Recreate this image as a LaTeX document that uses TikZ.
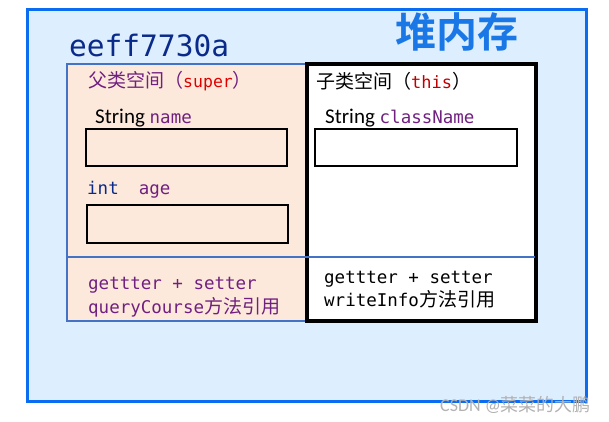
\documentclass[tikz,border=0pt]{standalone}
\usepackage{fontspec}
\setmainfont{Carlito}
\setmonofont{DejaVu Sans Mono}
\newfontfamily\cjk{Noto Sans CJK SC}
\newfontfamily\cjkbold{Noto Sans CJK SC Bold}
\definecolor{heapblue}{HTML}{0A6CF0}
\definecolor{heapfill}{HTML}{DDEEFF}
\definecolor{peach}{HTML}{FDE9DB}
\definecolor{parentblue}{HTML}{4472C4}
\definecolor{varpurple}{HTML}{702080}
\definecolor{navy}{HTML}{0A2A8A}
\definecolor{titleblue}{HTML}{1A78E6}
\definecolor{kwred}{HTML}{E00000}
\definecolor{kwdark}{HTML}{C00000}
\tikzset{
  txt/.style={anchor=base west, inner sep=0pt},
  slot/.style={draw=black, line width=2.5pt}
}
\newcommand{\zh}[1]{{\cjk\fontsize{19}{22}\selectfont #1}}
\newcommand{\code}[1]{{\ttfamily\fontsize{17.5}{20}\selectfont #1}}
\begin{document}
\begin{tikzpicture}[x=1pt, y=-1pt]
\useasboundingbox (0,0) rectangle (609,422);
% heap
\draw[color=heapblue, fill=heapfill, line width=3pt] (27,10) rectangle (586,401);
\node[txt, text=titleblue] (heaptitle) at (395,48) {\cjkbold\fontsize{41}{44}\selectfont 堆内存};
\node[txt, text=navy] (addr) at (69,57) {\ttfamily\fontsize{29.5}{32}\selectfont eeff7730a};
% parent space
\draw[color=parentblue, fill=peach, line width=2pt] (67,64) rectangle (307,321);
% child space
\draw[color=black, fill=white, line width=3.2pt] (307,64) rectangle (536,321);
\draw[color=parentblue, line width=2pt] (67,257) -- (535,257);
% parent fields
\node[txt, text=varpurple] (supertitle) at (88,88) {\zh{父类空间（}{\ttfamily\fontsize{16.5}{19}\selectfont\color{kwred}super}\zh{）}};
\node[txt] (namelabel) at (95,124) {\fontsize{21}{24}\selectfont String {\color{varpurple}\code{name}}};
\draw[slot] (86,129) rectangle (287,166);
\node[txt] (agelabel) at (87,194) {{\color{navy}\code{int}}\hspace{20pt}{\color{varpurple}\code{age}}};
\draw[slot] (87,205) rectangle (288,243);
\node[txt, text=varpurple] (parentget) at (88,289) {\code{gettter + setter}};
\node[txt, text=varpurple] (parentquery) at (88,313) {\code{queryCourse}\zh{方法引用}};
% child fields
\node[txt] (thistitle) at (316,89) {\zh{子类空间（}{\ttfamily\fontsize{17}{20}\selectfont\color{kwdark}this}\zh{）}};
\node[txt] (classlabel) at (325,124) {\fontsize{21}{24}\selectfont String {\color{varpurple}\code{className}}};
\draw[slot] (315,129) rectangle (517,166);
\node[txt] (childget) at (324,283) {\code{gettter + setter}};
\node[txt] (childwrite) at (324,306) {\code{writeInfo}\zh{方法引用}};
% watermark
\node[txt, text=gray!60] (mark) at (440,411) {\fontsize{18}{21}\selectfont CSDN @{\cjk 菜菜的大鹏}};
\end{tikzpicture}
\end{document}
